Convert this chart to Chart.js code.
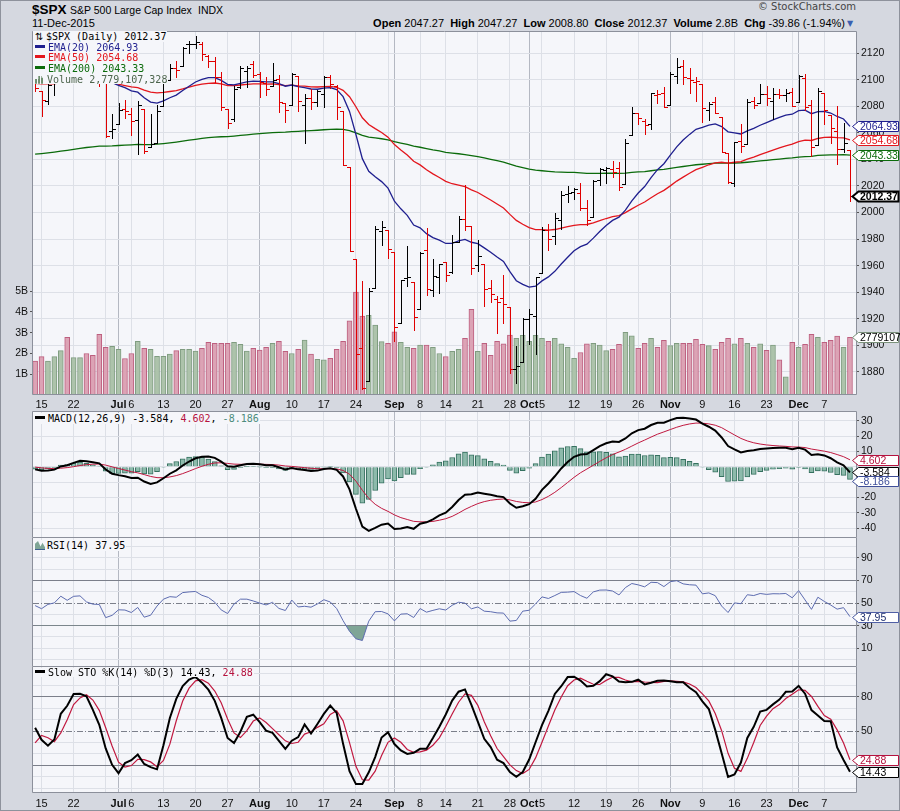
<!DOCTYPE html>
<html>
<head>
<meta charset="utf-8">
<title>$SPX Daily</title>
<script src="https://cdn.jsdelivr.net/npm/chart.js@4.4.1/dist/chart.umd.min.js"></script>
<style>
  html, body { margin: 0; padding: 0; }
  body { width: 900px; height: 811px; position: relative; overflow: hidden; background: #d5d8e0; font-family: "Liberation Sans", Arial, sans-serif; }
  #frame { position: absolute; left: 0; top: 0; width: 898px; height: 809px; border: 1px solid #8e929c; }
  canvas { position: absolute; left: 0; }
  .t { position: absolute; white-space: nowrap; color: #000; }
  .lg { position: absolute; left: 33px; height: 10.7px; line-height: 10.7px; padding-right: 1px; background: #f5f6fa; font: 10px "DejaVu Sans Mono", monospace; white-space: nowrap; z-index: 2; }
  .dash { display: inline-block; width: 10px; height: 3px; margin: 0 3px 0 2px; vertical-align: 3px; }
  .ico { display: inline-block; width: 10px; margin: 0 2px 0 2px; }
</style>
</head>
<body>
<div id="frame"></div>

<div class="t" style="left:32px;top:2px;font:bold 13.5px 'Liberation Sans';">$SPX</div>
<div class="t" style="left:70px;top:4px;font:10.5px 'Liberation Sans';">S&amp;P 500 Large Cap Index</div>
<div class="t" style="left:198px;top:4px;font:10.5px 'Liberation Sans';">INDX</div>
<div class="t" style="left:32px;top:17px;font:11px 'Liberation Sans';">11-Dec-2015</div>
<div class="t" style="right:55px;top:17px;font:11px 'Liberation Sans';"><b>Open</b> 2047.27&nbsp; <b>High</b> 2047.27&nbsp; <b>Low</b> 2008.80&nbsp; <b>Close</b> 2012.37&nbsp; <b>Volume</b> 2.8B&nbsp; <b>Chg</b> -39.86 (-1.94%)</div>
<div class="t" style="left:847px;top:19px;font:8px 'DejaVu Sans';color:#3a5fb0;">▼</div>
<div class="t" style="right:44px;top:1px;font:10px 'DejaVu Sans';color:#444;">© StockCharts.com</div>

<canvas id="cPrice" width="900" height="380" style="top:31px"></canvas>
<canvas id="cMacd" width="900" height="127" style="top:411px"></canvas>
<canvas id="cRsi" width="900" height="129" style="top:538px"></canvas>
<canvas id="cSto" width="900" height="144" style="top:667px"></canvas>

<div class="lg" style="top:31px;"><span class="ico" style="font:10px 'DejaVu Sans';width:9px;">⇅</span>$SPX (Daily) 2012.37</div>
<div class="lg" style="top:41.7px;color:#1f1f8f;"><span class="dash" style="background:#1f1f8f"></span>EMA(20) 2064.93</div>
<div class="lg" style="top:52.4px;color:#e3161d;"><span class="dash" style="background:#e3161d"></span>EMA(50) 2054.68</div>
<div class="lg" style="top:63.1px;color:#0b6b0b;"><span class="dash" style="background:#0b6b0b"></span>EMA(200) 2043.33</div>
<div class="lg" style="top:73.8px;color:#4d654d;"><span class="ico" style="height:8px;vertical-align:-1px;background:linear-gradient(90deg,#6f8f6f 0 2px,transparent 2px 3px,#6f8f6f 3px 5px,transparent 5px 6px,#6f8f6f 6px 8px,transparent 8px);clip-path:polygon(0 40%,33% 40%,33% 0,66% 0,66% 25%,100% 25%,100% 100%,0 100%);"></span>Volume 2,779,107,328</div>

<div class="lg" style="top:413px;"><span class="dash" style="background:#000"></span>MACD(12,26,9) -3.584, <span style="color:#b5123e">4.602</span>, <span style="color:#4c8c7c">-8.186</span></div>
<div class="lg" style="top:540px;"><span class="ico" style="height:8px;vertical-align:-1px;background:#7fa596;border-bottom:1px solid #3f5f8f;clip-path:polygon(0 100%,0 30%,30% 0,55% 60%,75% 20%,100% 70%,100% 100%);"></span>RSI(14) 37.95</div>
<div class="lg" style="top:668px;height:9px;line-height:10px;"><span class="dash" style="background:#000"></span>Slow STO %K(14) %D(3) 14.43, <span style="color:#b5123e">24.88</span></div>

<script>
// trading days shown (x index = position in this list)
const dates = [
  '2015-06-12',
  '2015-06-15','2015-06-16','2015-06-17','2015-06-18','2015-06-19',
  '2015-06-22','2015-06-23','2015-06-24','2015-06-25','2015-06-26',
  '2015-06-29','2015-06-30','2015-07-01','2015-07-02',
  '2015-07-06','2015-07-07','2015-07-08','2015-07-09','2015-07-10',
  '2015-07-13','2015-07-14','2015-07-15','2015-07-16','2015-07-17',
  '2015-07-20','2015-07-21','2015-07-22','2015-07-23','2015-07-24',
  '2015-07-27','2015-07-28','2015-07-29','2015-07-30','2015-07-31',
  '2015-08-03','2015-08-04','2015-08-05','2015-08-06','2015-08-07',
  '2015-08-10','2015-08-11','2015-08-12','2015-08-13','2015-08-14',
  '2015-08-17','2015-08-18','2015-08-19','2015-08-20','2015-08-21',
  '2015-08-24','2015-08-25','2015-08-26','2015-08-27','2015-08-28',
  '2015-08-31','2015-09-01','2015-09-02','2015-09-03','2015-09-04',
  '2015-09-08','2015-09-09','2015-09-10','2015-09-11',
  '2015-09-14','2015-09-15','2015-09-16','2015-09-17','2015-09-18',
  '2015-09-21','2015-09-22','2015-09-23','2015-09-24','2015-09-25',
  '2015-09-28','2015-09-29','2015-09-30','2015-10-01','2015-10-02',
  '2015-10-05','2015-10-06','2015-10-07','2015-10-08','2015-10-09',
  '2015-10-12','2015-10-13','2015-10-14','2015-10-15','2015-10-16',
  '2015-10-19','2015-10-20','2015-10-21','2015-10-22','2015-10-23',
  '2015-10-26','2015-10-27','2015-10-28','2015-10-29','2015-10-30',
  '2015-11-02','2015-11-03','2015-11-04','2015-11-05','2015-11-06',
  '2015-11-09','2015-11-10','2015-11-11','2015-11-12','2015-11-13',
  '2015-11-16','2015-11-17','2015-11-18','2015-11-19','2015-11-20',
  '2015-11-23','2015-11-24','2015-11-25','2015-11-27',
  '2015-11-30','2015-12-01','2015-12-02','2015-12-03','2015-12-04',
  '2015-12-07','2015-12-08','2015-12-09','2015-12-10','2015-12-11'
];

const prevClose = 2108.86; // close before the first bar, sets its colour

const opens = [
  2107.43,2091.34,2084.26,2097.40,2101.58,2121.06,2112.50,2123.16,2123.65,2109.96,
  2102.62,2098.63,2061.19,2067.00,2078.03,2073.95,2069.52,2077.66,2049.73,2052.74,
  2080.03,2099.72,2109.01,2110.55,2126.80,2126.85,2127.19,2118.21,2114.16,2102.24,
  2078.19,2070.75,2094.70,2106.78,2111.60,2104.49,2097.68,2095.27,2100.75,2082.61,
  2080.98,2102.66,2081.10,2086.19,2083.15,2089.70,2101.99,2095.69,2076.61,2034.08,
  1965.15,1898.08,1872.75,1942.77,1986.06,1986.73,1970.09,1916.52,1950.79,1947.76,
  1927.30,1971.45,1941.59,1951.45,1963.06,1955.10,1978.02,1995.33,1989.66,1960.84,
  1961.39,1943.24,1934.81,1935.93,1929.18,1881.90,1887.14,1919.65,1921.77,1954.33,
  1986.63,1982.34,1994.01,2013.73,2015.65,2015.00,2003.66,1996.47,2024.37,2031.73,
  2033.13,2033.47,2021.88,2058.19,2075.08,2068.75,2066.48,2088.35,2090.00,2080.76,
  2102.63,2110.60,2101.68,2098.60,2096.56,2077.19,2083.41,2072.29,2044.64,2022.08,
  2053.67,2051.99,2083.70,2082.82,2089.41,2084.42,2089.30,2088.82,2090.95,2082.93,
  2101.71,2080.71,2051.24,2090.42,2073.39,2061.17,2047.93,2047.27
];
const highs = [
  2107.43,2091.34,2097.40,2106.79,2126.65,2121.64,2129.87,2128.03,2125.10,2116.04,
  2108.92,2098.63,2074.28,2082.78,2085.06,2078.61,2083.74,2077.66,2074.28,2081.31,
  2099.88,2111.98,2114.14,2124.42,2128.91,2132.82,2128.33,2118.51,2116.87,2106.01,
  2078.19,2095.60,2110.60,2110.48,2114.24,2105.70,2102.51,2112.66,2103.32,2082.61,
  2105.35,2102.66,2089.06,2092.93,2092.45,2102.87,2103.47,2096.17,2076.61,2034.08,
  1965.15,1948.04,1943.09,1989.60,1993.48,1986.73,1970.09,1948.91,1975.01,1947.76,
  1970.42,1988.63,1965.29,1961.05,1963.06,1983.19,1997.26,2020.86,1989.66,1979.64,
  1961.39,1949.52,1937.17,1952.89,1929.18,1899.48,1920.53,1927.21,1951.36,1989.17,
  1991.62,1999.31,2016.50,2020.13,2018.66,2022.34,2009.56,2024.15,2033.54,2034.45,
  2039.12,2037.97,2055.20,2079.74,2075.14,2070.37,2090.35,2092.52,2094.32,2106.20,
  2116.48,2114.59,2108.78,2101.91,2096.56,2083.67,2086.94,2072.29,2044.64,2053.22,
  2066.69,2085.31,2086.74,2097.06,2095.61,2094.12,2093.00,2093.29,2093.81,2103.37,
  2104.27,2085.00,2093.84,2090.42,2073.85,2080.33,2067.65,2047.27
];
const lows = [
  2091.33,2072.49,2082.10,2088.86,2101.58,2109.45,2112.50,2119.89,2108.58,2101.78,
  2095.38,2056.64,2056.32,2067.00,2071.02,2058.40,2044.02,2044.66,2049.73,2052.74,
  2080.03,2099.72,2102.49,2110.55,2119.88,2123.66,2115.03,2110.00,2098.63,2077.09,
  2063.52,2069.09,2094.08,2094.97,2102.07,2087.31,2088.60,2095.27,2075.53,2067.91,
  2080.98,2076.49,2052.09,2078.26,2080.61,2079.30,2094.14,2070.53,2035.73,1970.89,
  1867.01,1867.08,1872.75,1942.77,1975.19,1965.98,1903.07,1916.52,1944.72,1911.21,
  1927.30,1937.88,1937.19,1939.19,1948.27,1954.30,1977.93,1986.73,1953.45,1955.80,
  1929.22,1932.57,1908.92,1916.83,1879.21,1871.91,1887.14,1900.70,1893.70,1954.33,
  1971.99,1976.44,1987.53,2007.61,2010.55,2001.78,1990.73,1996.47,2020.46,2022.31,
  2026.61,2017.22,2021.88,2058.19,2066.53,2058.84,2063.11,2082.63,2079.34,2080.76,
  2097.51,2096.98,2090.41,2083.74,2068.24,2069.91,2074.85,2045.66,2022.02,2019.94,
  2045.90,2051.99,2078.76,2082.82,2081.39,2070.29,2086.30,2084.13,2080.41,2082.93,
  2077.11,2042.35,2051.24,2066.78,2052.32,2036.53,2045.67,2008.80
];
const closes = [
  2094.11,2084.43,2096.29,2100.44,2121.24,2109.99,2122.85,2124.20,2108.58,2102.31,
  2101.49,2057.64,2063.11,2077.42,2076.78,2068.76,2081.34,2046.68,2051.31,2076.62,
  2099.60,2108.95,2107.40,2124.29,2126.64,2128.28,2119.21,2114.15,2102.15,2079.65,
  2067.64,2093.25,2108.57,2108.63,2103.84,2098.04,2093.32,2099.84,2083.56,2077.57,
  2104.18,2084.07,2086.05,2083.39,2091.54,2102.44,2096.92,2079.61,2035.73,1970.89,
  1893.21,1867.61,1940.51,1987.66,1988.87,1972.18,1913.85,1948.86,1951.13,1921.22,
  1969.41,1942.04,1952.29,1961.05,1953.03,1978.09,1995.31,1990.20,1958.03,1966.97,
  1942.74,1938.76,1932.24,1931.34,1881.77,1884.09,1920.03,1923.82,1951.36,1987.05,
  1979.92,1995.83,2013.43,2014.89,2017.46,2003.69,1994.24,2023.86,2033.11,2033.66,
  2030.77,2018.94,2052.51,2075.15,2071.18,2065.89,2090.35,2089.41,2079.36,2104.05,
  2109.79,2102.31,2099.93,2099.20,2078.58,2081.72,2075.00,2045.97,2023.04,2053.19,
  2050.44,2083.58,2081.24,2089.17,2086.59,2089.14,2088.87,2090.11,2080.41,2102.63,
  2079.51,2049.62,2091.69,2077.07,2063.59,2047.62,2052.23,2012.37
];
// volume in billions of shares
const volumes = [
  1.64,1.85,1.64,1.85,2.14,2.78,1.80,1.80,2.00,1.91,
  2.92,2.30,2.35,2.20,1.76,2.00,2.59,2.25,2.20,1.86,
  1.86,1.97,2.14,2.20,2.20,2.12,2.25,2.54,2.49,2.49,
  2.49,2.54,2.44,2.12,2.25,2.17,2.30,2.49,2.59,2.10,
  2.00,2.20,2.65,1.97,1.72,1.69,1.77,2.20,2.59,3.57,
  4.96,3.80,3.84,3.37,2.57,2.49,3.04,2.54,2.30,2.25,
  2.41,2.41,2.30,2.00,1.85,2.10,2.20,2.73,4.13,2.10,
  2.49,1.91,2.59,2.46,2.89,2.73,2.87,2.59,2.87,2.73,
  2.59,2.73,2.46,2.30,1.77,2.05,2.46,2.49,2.40,2.14,
  2.20,2.44,3.02,2.85,2.25,2.49,2.73,2.30,2.64,2.38,
  2.49,2.49,2.49,2.68,2.44,2.38,2.20,2.54,2.73,2.46,
  2.73,2.49,2.30,2.46,2.15,2.41,1.69,0.87,2.54,2.30,
  2.44,2.92,2.78,2.54,2.64,2.84,2.30,2.779107328
];

const ema20 = [
  2100.4,2099.0,2098.8,2099.0,2101.2,2102.1,2104.1,2106.1,2106.4,2106.0,
  2105.6,2101.1,2097.8,2095.9,2094.1,2091.7,2090.7,2086.5,2083.2,2082.5,
  2084.2,2086.5,2088.5,2091.9,2095.2,2098.4,2100.4,2101.7,2101.7,2099.6,
  2096.6,2096.2,2097.4,2098.5,2099.0,2098.9,2098.4,2098.5,2097.1,2095.2,
  2096.1,2094.9,2094.1,2093.1,2092.9,2093.8,2094.1,2092.7,2087.3,2076.2,
  2058.8,2040.6,2031.1,2026.9,2023.3,2018.4,2008.5,2002.8,1997.9,1990.6,
  1988.5,1984.1,1981.1,1979.2,1976.7,1976.8,1978.6,1979.7,1977.6,1976.6,
  1973.4,1970.1,1966.5,1963.1,1955.4,1948.6,1945.9,1943.8,1944.5,1948.5,
  1951.5,1955.7,1961.2,1966.3,1971.2,1974.3,1976.2,1980.7,1985.7,1990.3,
  1994.1,1996.5,2001.8,2008.8,2014.7,2019.6,2026.3,2032.3,2036.8,2043.2,
  2049.5,2054.6,2058.9,2062.7,2064.2,2065.9,2066.8,2064.8,2060.8,2060.1,
  2059.2,2061.5,2063.4,2065.8,2067.8,2069.8,2071.7,2073.4,2074.1,2076.8,
  2077.1,2074.5,2076.1,2076.2,2075.0,2072.4,2070.5,2064.93
];
const ema50 = [
  2097.4,2096.9,2096.9,2097.0,2098.0,2098.4,2099.4,2100.4,2100.7,2100.8,
  2100.8,2099.1,2097.7,2096.7,2095.7,2094.7,2094.2,2092.3,2090.7,2090.2,
  2090.5,2091.2,2091.9,2093.1,2094.5,2095.8,2096.7,2097.4,2097.6,2096.9,
  2095.7,2095.6,2096.1,2096.6,2096.9,2097.0,2096.8,2096.9,2096.4,2095.7,
  2096.0,2095.5,2095.2,2094.7,2094.6,2094.9,2095.0,2094.4,2092.1,2087.3,
  2079.7,2071.4,2066.3,2063.2,2060.3,2056.8,2051.2,2047.2,2043.4,2038.6,
  2035.9,2032.2,2029.1,2026.4,2023.5,2021.7,2020.7,2019.5,2017.1,2015.1,
  2012.3,2009.4,2006.4,2003.4,1998.6,1994.1,1991.2,1988.6,1987.1,1987.1,
  1986.8,1987.2,1988.2,1989.3,1990.4,1990.9,1991.0,1992.3,1993.9,1995.5,
  1996.9,1997.7,1999.9,2002.8,2005.5,2007.9,2011.1,2014.2,2016.7,2020.1,
  2023.7,2026.7,2029.6,2032.3,2034.1,2036.0,2037.5,2037.9,2037.3,2037.9,
  2038.4,2040.2,2041.8,2043.7,2045.3,2047.1,2048.7,2050.3,2051.5,2053.5,
  2054.5,2054.3,2055.8,2056.6,2056.9,2056.5,2056.3,2054.68
];
const ema200 = [
  2044.0,2044.4,2044.9,2045.5,2046.2,2046.9,2047.6,2048.4,2049.0,2049.5,
  2050.0,2050.1,2050.2,2050.5,2050.8,2051.0,2051.3,2051.2,2051.2,2051.5,
  2052.0,2052.5,2053.1,2053.8,2054.5,2055.2,2055.9,2056.5,2056.9,2057.1,
  2057.2,2057.6,2058.1,2058.6,2059.1,2059.4,2059.8,2060.2,2060.4,2060.6,
  2061.0,2061.2,2061.5,2061.7,2062.0,2062.4,2062.7,2062.9,2062.6,2061.7,
  2060.0,2058.1,2056.9,2056.3,2055.6,2054.8,2053.4,2052.3,2051.3,2050.0,
  2049.2,2048.2,2047.2,2046.4,2045.4,2044.8,2044.3,2043.7,2042.9,2042.1,
  2041.2,2040.1,2039.1,2038.0,2036.5,2034.9,2033.8,2032.7,2031.9,2031.5,
  2031.0,2030.6,2030.4,2030.3,2030.2,2029.9,2029.5,2029.5,2029.5,2029.6,
  2029.6,2029.5,2029.7,2030.2,2030.6,2030.9,2031.5,2032.1,2032.6,2033.3,
  2034.0,2034.7,2035.4,2036.0,2036.4,2036.9,2037.2,2037.3,2037.2,2037.3,
  2037.5,2037.9,2038.4,2038.9,2039.3,2039.8,2040.3,2040.8,2041.2,2041.8,
  2042.2,2042.3,2043.0,2043.3,2043.5,2043.5,2043.6,2043.33
];

const macdLine = [
  -1.65,-2.60,-2.37,-1.83,0.27,1.01,2.61,3.94,3.69,2.96,
  2.29,-1.76,-4.48,-5.42,-6.14,-7.27,-7.08,-9.61,-11.12,-10.15,
  -7.44,-4.50,-2.26,0.87,3.49,5.63,6.53,6.76,5.90,3.37,
  0.39,0.09,1.08,1.84,2.03,1.70,1.05,1.04,-0.28,-1.78,
  -0.81,-1.64,-2.12,-2.69,-2.46,-1.38,-0.96,-1.99,-6.28,-14.73,
  -27.38,-39.02,-41.88,-39.89,-37.78,-37.03,-40.67,-40.26,-39.30,-40.49,
  -37.12,-36.24,-34.32,-31.73,-29.97,-26.25,-21.67,-18.24,-17.91,-16.73,
  -17.55,-18.30,-19.21,-19.77,-23.94,-26.75,-25.78,-24.42,-20.89,-15.03,
  -10.85,-6.17,-1.03,3.12,6.54,8.05,8.39,10.92,13.52,15.44,
  16.54,16.27,18.54,21.92,24.00,24.94,27.33,28.82,28.86,30.53,
  31.94,32.09,31.66,30.90,28.31,26.21,23.73,19.20,13.61,11.47,
  9.45,10.40,10.84,11.69,12.02,12.34,12.43,12.46,11.57,12.51,
  11.26,7.77,8.30,7.46,5.64,2.87,1.04,-3.584
];
const macdSignal = [
  -0.17,-0.66,-1.00,-1.17,-0.88,-0.50,0.12,0.88,1.44,1.74,
  1.85,1.13,0.01,-1.08,-2.09,-3.13,-3.92,-5.06,-6.27,-7.05,
  -7.13,-6.60,-5.73,-4.41,-2.83,-1.14,0.39,1.66,2.51,2.68,
  2.22,1.79,1.65,1.69,1.76,1.75,1.61,1.50,1.14,0.56,
  0.29,-0.10,-0.50,-0.94,-1.24,-1.27,-1.21,-1.37,-2.35,-4.83,
  -9.34,-15.28,-20.60,-24.46,-27.12,-29.10,-31.41,-33.18,-34.40,-35.62,
  -35.92,-35.98,-35.65,-34.87,-33.89,-32.36,-30.22,-27.82,-25.84,-24.02,
  -22.73,-21.84,-21.31,-21.00,-21.59,-22.62,-23.25,-23.48,-22.96,-21.37,
  -19.27,-16.65,-13.53,-10.20,-6.85,-3.87,-1.42,1.05,3.54,5.92,
  8.04,9.69,11.46,13.55,15.64,17.50,19.47,21.34,22.84,24.38,
  25.89,27.13,28.04,28.61,28.55,28.08,27.21,25.61,23.21,20.86,
  18.58,16.94,15.72,14.91,14.33,13.93,13.63,13.40,13.03,12.93,
  12.60,11.63,10.96,10.26,9.34,8.05,6.65,4.602
];
const macdHist = [
  -1.48,-1.94,-1.37,-0.66,1.15,1.51,2.49,3.06,2.25,1.22,
  0.44,-2.89,-4.49,-4.34,-4.05,-4.14,-3.16,-4.55,-4.85,-3.10,
  -0.31,2.10,3.47,5.28,6.32,6.77,6.14,5.10,3.39,0.69,
  -1.83,-1.70,-0.57,0.15,0.27,-0.05,-0.56,-0.46,-1.42,-2.34,
  -1.10,-1.54,-1.62,-1.75,-1.22,-0.11,0.25,-0.62,-3.93,-9.90,
  -18.04,-23.74,-21.28,-15.43,-10.66,-7.93,-9.26,-7.08,-4.90,-4.87,
  -1.20,-0.26,1.33,3.14,3.92,6.11,8.55,9.58,7.93,7.29,
  5.18,3.54,2.10,1.23,-2.35,-4.13,-2.53,-0.94,2.07,6.34,
  8.42,10.48,12.50,13.32,13.39,11.92,9.81,9.87,9.98,9.52,
  8.50,6.58,7.08,8.37,8.36,7.44,7.86,7.48,6.02,6.15,
  6.05,4.96,3.62,2.29,-0.24,-1.87,-3.48,-6.41,-9.60,-9.39,
  -9.13,-6.54,-4.88,-3.22,-2.31,-1.59,-1.20,-0.94,-1.46,-0.42,
  -1.34,-3.86,-2.66,-2.80,-3.70,-5.18,-5.61,-8.186
];

const rsi14 = [
  47.7,45.0,48.8,50.1,56.0,52.4,55.9,56.3,51.0,49.0,
  48.7,37.1,39.1,44.0,43.8,41.6,46.1,37.5,39.2,47.3,
  53.4,55.6,55.1,59.2,59.8,60.2,56.8,54.9,50.7,43.9,
  40.7,49.1,53.4,53.4,51.8,49.9,48.3,50.6,45.2,43.4,
  52.6,46.5,47.1,46.3,49.2,52.9,50.9,45.1,34.4,25.0,
  18.4,16.9,34.0,42.3,42.5,40.4,34.2,40.2,40.5,37.2,
  45.1,41.9,43.5,44.9,43.8,48.0,50.7,49.9,44.9,46.5,
  42.8,42.3,41.3,41.1,34.0,34.6,42.8,43.6,49.2,55.4,
  54.0,56.6,59.4,59.6,60.1,56.6,54.2,59.8,61.4,61.5,
  60.6,57.1,63.6,67.2,66.0,64.3,68.3,68.0,64.5,68.8,
  69.7,66.9,66.1,65.8,58.1,58.9,56.5,47.3,41.6,50.1,
  49.4,57.3,56.6,58.4,57.6,58.2,58.1,58.4,54.6,60.9,
  52.7,44.4,55.1,51.4,48.2,44.6,45.9,37.95
];

const stoK = [
  52.8,42.3,37.2,42.6,65.1,72.1,82.4,82.5,80.4,68.5,
  55.4,34.8,20.5,13.1,21.9,24.5,29.4,21.2,18.4,16.5,
  37.6,61.4,78.1,89.3,95.0,97.3,92.3,86.2,76.4,61.5,
  43.9,39.5,49.4,62.4,64.3,57.7,50.3,48.4,41.4,34.3,
  41.5,44.7,55.7,47.8,56.2,65.0,72.2,65.8,38.8,14.8,
  3.6,3.7,13.9,27.2,44.3,48.9,38.6,33.0,30.0,31.0,
  34.4,34.5,43.8,53.7,64.5,76.6,84.4,86.4,72.9,58.3,
  43.2,36.0,24.9,22.0,14.2,10.0,14.1,25.1,40.2,55.2,
  67.7,82.4,89.2,97.2,97.5,94.1,89.0,89.6,93.6,99.7,
  97.8,93.3,92.6,93.0,94.9,90.8,92.2,94.0,94.2,93.5,
  92.7,92.7,87.8,83.9,75.9,69.2,51.0,30.6,9.8,12.0,
  22.4,44.0,53.7,67.0,68.5,73.3,77.5,84.3,84.5,89.5,
  82.7,68.3,63.6,58.8,58.5,35.6,24.6,14.43
];
const stoD = [
  39.6,46.2,44.1,40.7,48.3,59.9,73.2,79.0,81.8,77.1,
  68.1,52.9,36.9,22.8,18.5,19.8,25.3,25.0,23.0,18.7,
  24.2,38.5,59.0,76.3,87.5,93.9,94.9,91.9,85.0,74.7,
  60.6,48.3,44.3,50.4,58.7,61.5,57.4,52.1,46.7,41.4,
  39.1,40.2,47.3,49.4,53.2,56.3,64.5,67.7,58.9,39.8,
  19.1,7.4,7.1,14.9,28.5,40.1,43.9,40.2,33.9,31.3,
  31.8,33.3,37.6,44.0,54.0,64.9,75.2,82.5,81.2,72.5,
  58.1,45.8,34.7,27.6,20.4,15.4,12.8,16.4,26.5,40.2,
  54.4,68.4,79.8,89.6,94.6,96.3,93.5,90.9,90.7,94.3,
  97.0,96.9,94.6,93.0,93.5,92.9,92.6,92.3,93.5,93.9,
  93.5,93.0,91.1,88.1,82.5,76.3,65.4,50.3,30.5,17.5,
  14.7,26.1,40.0,54.9,63.1,69.6,73.1,78.4,82.1,86.1,
  85.6,80.2,71.5,63.6,60.3,51.0,39.6,24.88
];

// axis ticks
const tickIdx  = [1, 6, 11, 13, 15, 20, 25, 30, 35, 40, 45, 50, 55, 56, 60, 64, 69, 74, 77, 79, 84, 89, 94, 99, 104, 109, 114, 118, 119, 123];
const tickText = ['15','22','','Jul','6','13','20','27','Aug','10','17','24','','Sep','8','14','21','28','Oct','5','12','19','26','Nov','9','16','23','','Dec','7'];
const monthIdx = [13, 35, 56, 77, 99, 119];
const priceTicks = [1880, 1900, 1920, 1940, 1960, 1980, 2000, 2020, 2040, 2060, 2080, 2100, 2120];
const volTicks = [1, 2, 3, 4, 5];
const macdTicks = [-40, -30, -20, -10, 0, 10, 20, 30];
const macdLabels = [-40, -30, -20, 10, 20, 30];
const oscTicks = [0, 10, 20, 30, 40, 50, 60, 70, 80, 90, 100];
const rsiLabels = [10, 30, 50, 70, 90];
const stoLabels = [50, 80];

const PLOT_BG = '#f5f6fa', GRID = '#dde0e7', GRID_MONTH = '#b4b8c2', FRAME = '#8c909b', LEVEL = '#7b7f8a';
const TICK_FONT = 'Liberation Sans';
const last = dates.length - 1;

const pts = arr => arr.map((v, i) => ({ x: i, y: v }));
const isUp = i => closes[i] >= (i ? closes[i - 1] : prevClose);

// plot background, level lines, frame and the value tags on the right edge
const panelPlugin = {
  id: 'panel',
  beforeDraw(chart) {
    const a = chart.chartArea, ctx = chart.ctx;
    ctx.save();
    ctx.fillStyle = PLOT_BG;
    ctx.fillRect(a.left, a.top, a.right - a.left, a.bottom - a.top);
    ctx.restore();
  },
  beforeDatasetsDraw(chart, args, opts) {
    const a = chart.chartArea, ctx = chart.ctx, y = chart.scales.y;
    ctx.save();
    (opts.levels || []).forEach(l => {
      const py = Math.round(y.getPixelForValue(l.value)) + 0.5;
      ctx.strokeStyle = LEVEL;
      ctx.lineWidth = 1;
      ctx.setLineDash(l.dash || []);
      ctx.beginPath();
      ctx.moveTo(a.left, py);
      ctx.lineTo(a.right, py);
      ctx.stroke();
    });
    ctx.restore();
  },
  afterDraw(chart, args, opts) {
    const a = chart.chartArea, ctx = chart.ctx;
    const l = Math.round(a.left) - 0.5, r = Math.round(a.right) + 0.5;
    const t = Math.round(a.top) + 0.5, b = Math.round(a.bottom) - 0.5;
    ctx.save();
    ctx.strokeStyle = FRAME;
    ctx.lineWidth = 1;
    ctx.beginPath();
    ctx.moveTo(l, opts.top ? t : a.top); ctx.lineTo(l, b); ctx.lineTo(r, b); ctx.lineTo(r, opts.top ? t : a.top);
    if (opts.top) { ctx.moveTo(l, t); ctx.lineTo(r, t); }
    ctx.stroke();

    const H = 10;
    const tags = (opts.tags || []).map(tg => Object.assign({}, tg, { py: chart.scales[tg.scale].getPixelForValue(tg.value) }));
    tags.sort((p, q) => p.py - q.py);
    for (let k = 1; k < tags.length; k++) {
      if (tags[k].py < tags[k - 1].py + H - 1) tags[k].py = tags[k - 1].py + H - 1;
    }
    tags.forEach(tg => {
      const yc = Math.round(tg.py) + 0.5;
      const x0 = r - 4, x1 = r + 2, x2 = chart.width - 1.5;
      ctx.beginPath();
      ctx.moveTo(x0, yc);
      ctx.lineTo(x1, yc - H / 2); ctx.lineTo(x2, yc - H / 2);
      ctx.lineTo(x2, yc + H / 2); ctx.lineTo(x1, yc + H / 2);
      ctx.closePath();
      ctx.fillStyle = '#fff';
      ctx.fill();
      ctx.lineWidth = tg.bold ? 2 : 1;
      ctx.strokeStyle = tg.color;
      ctx.stroke();
      ctx.fillStyle = tg.textColor || tg.color;
      ctx.font = (tg.bold ? 'bold ' : '') + '10.5px "' + TICK_FONT + '"';
      ctx.textAlign = 'left';
      ctx.textBaseline = 'middle';
      ctx.fillText(tg.text, x1 + 1.5, yc + 0.5);
    });
    ctx.restore();
  }
};

// open-high-low-close bars, positioned through the chart's x and y scales
const ohlcPlugin = {
  id: 'ohlc',
  afterDatasetsDraw(chart) {
    const { ctx, chartArea: a } = chart;
    const x = chart.scales.x, y = chart.scales.y;
    ctx.save();
    ctx.beginPath();
    ctx.rect(a.left, a.top, a.right - a.left, a.bottom - a.top);
    ctx.clip();
    ctx.lineWidth = 1;
    for (let i = 0; i < closes.length; i++) {
      const px = Math.round(x.getPixelForValue(i)) + 0.5;
      const yh = Math.round(y.getPixelForValue(highs[i]));
      const yl = Math.round(y.getPixelForValue(lows[i]));
      const yo = Math.round(y.getPixelForValue(opens[i])) + 0.5;
      const yc = Math.round(y.getPixelForValue(closes[i])) + 0.5;
      ctx.strokeStyle = isUp(i) ? '#000000' : '#e00000';
      ctx.beginPath();
      ctx.moveTo(px, yh); ctx.lineTo(px, yl + 1);
      ctx.moveTo(px - 3.5, yo); ctx.lineTo(px, yo);
      ctx.moveTo(px, yc); ctx.lineTo(px + 3.5, yc);
      ctx.stroke();
    }
    ctx.restore();
  }
};

function xScale(showLabels, height, pad) {
  return {
    type: 'linear', position: 'bottom', min: -0.33, max: 127.94, offset: false,
    afterBuildTicks: s => { s.ticks = tickIdx.map(v => ({ value: v })); },
    afterFit: s => { s.height = height; s.paddingLeft = 0; s.paddingRight = 0; },
    border: { display: false },
    grid: { offset: false, drawTicks: false, color: c => monthIdx.includes(c.tick && c.tick.value) ? GRID_MONTH : GRID },
    ticks: {
      display: showLabels, autoSkip: false, maxRotation: 0, minRotation: 0, padding: pad, color: '#111',
      font: c => ({ family: TICK_FONT, size: 11, weight: monthIdx.includes(c.tick && c.tick.value) ? 'bold' : 'normal' }),
      callback: v => tickText[tickIdx.indexOf(v)]
    }
  };
}

function yRight(min, max, ticks, labels, darkAt, hideAt) {
  return {
    type: 'linear', position: 'right', min: min, max: max,
    afterBuildTicks: s => { s.ticks = ticks.map(v => ({ value: v })); },
    afterFit: s => { s.width = 44; s.paddingTop = 0; s.paddingBottom = 0; },
    border: { display: false },
    grid: {
      tickLength: 3,
      tickColor: c => labels.includes(c.tick && c.tick.value) ? '#555' : 'rgba(0,0,0,0)',
      color: c => {
        const v = c.tick && c.tick.value;
        if ((hideAt || []).includes(v)) return 'rgba(0,0,0,0)';
        return (darkAt || []).includes(v) ? LEVEL : GRID;
      }
    },
    ticks: { autoSkip: false, padding: 2, color: '#111', font: { family: TICK_FONT, size: 10.5 }, callback: v => labels.includes(v) ? String(v) : '' }
  };
}

function baseOptions(padLeft, panelOpts) {
  return {
    responsive: false, animation: false, events: [],
    layout: { padding: { left: padLeft, right: 0, top: 0, bottom: 0 } },
    plugins: { legend: { display: false }, tooltip: { enabled: false }, panel: panelOpts }
  };
}

// price panel
const priceOpts = baseOptions(0, {
  top: true,
  tags: [
    { scale: 'y', value: ema20[last], text: ema20[last].toFixed(2), color: '#1f1f8f' },
    { scale: 'y', value: ema50[last], text: ema50[last].toFixed(2), color: '#e3161d' },
    { scale: 'y', value: ema200[last], text: ema200[last].toFixed(2), color: '#0b6b0b' },
    { scale: 'y', value: closes[last], text: closes[last].toFixed(2), color: '#000', bold: true },
    { scale: 'yVol', value: volumes[last], text: (volumes[last] * 1e9).toFixed(0).slice(0, 7), color: '#7a927a', textColor: '#000' }
  ]
});
priceOpts.scales = {
  x: xScale(true, 16, 3),
  y: yRight(1862.5, 2136.8, priceTicks, priceTicks),
  yVol: {
    type: 'linear', position: 'left', min: 0, max: 17.54,
    afterBuildTicks: s => { s.ticks = volTicks.map(v => ({ value: v })); },
    afterFit: s => { s.width = 33; s.paddingTop = 0; s.paddingBottom = 0; },
    border: { display: false },
    grid: { drawOnChartArea: false, tickLength: 3, tickColor: '#555' },
    ticks: { autoSkip: false, padding: 2, color: '#111', font: { family: TICK_FONT, size: 10.5 }, callback: v => v + 'B' }
  }
};

new Chart(document.getElementById('cPrice'), {
  type: 'line',
  data: {
    datasets: [
      {
        type: 'bar', yAxisID: 'yVol', data: pts(volumes), order: 10,
        barThickness: 5, borderWidth: 1,
        backgroundColor: volumes.map((v, i) => isUp(i) ? '#adc3ab' : '#dca3b5'),
        borderColor: volumes.map((v, i) => isUp(i) ? '#7f9c80' : '#bd5f7f')
      },
      { label: 'EMA(200)', data: pts(ema200), yAxisID: 'y', borderColor: '#0b6b0b', borderWidth: 1.3, pointRadius: 0, order: 3 },
      { label: 'EMA(50)', data: pts(ema50), yAxisID: 'y', borderColor: '#e3161d', borderWidth: 1.3, pointRadius: 0, order: 2 },
      { label: 'EMA(20)', data: pts(ema20), yAxisID: 'y', borderColor: '#1f1f8f', borderWidth: 1.3, pointRadius: 0, order: 1 }
    ]
  },
  options: priceOpts,
  plugins: [panelPlugin, ohlcPlugin]
});

// MACD panel
const macdOpts = baseOptions(33, {
  top: true,
  tags: [
    { scale: 'y', value: macdSignal[last], text: macdSignal[last].toFixed(3), color: '#b5123e' },
    { scale: 'y', value: macdLine[last], text: macdLine[last].toFixed(3), color: '#000' },
    { scale: 'y', value: macdHist[last], text: macdHist[last].toFixed(3), color: '#3f4f99' }
  ]
});
macdOpts.scales = { x: xScale(false, 0, 0), y: yRight(-46.5, 36.5, macdTicks, macdLabels) };
new Chart(document.getElementById('cMacd'), {
  type: 'line',
  data: {
    datasets: [
      { type: 'bar', data: pts(macdHist), order: 10, barThickness: 5, borderWidth: 1, backgroundColor: '#8dbaab', borderColor: '#35705f' },
      { label: 'Signal', data: pts(macdSignal), borderColor: '#c0183f', borderWidth: 1, pointRadius: 0, order: 2 },
      { label: 'MACD', data: pts(macdLine), borderColor: '#000', borderWidth: 2, pointRadius: 0, order: 1 }
    ]
  },
  options: macdOpts,
  plugins: [panelPlugin]
});

// RSI panel
const rsiOpts = baseOptions(33, {
  levels: [{ value: 50, dash: [6, 2, 1, 2] }],
  tags: [{ scale: 'y', value: rsi14[last], text: rsi14[last].toFixed(2), color: '#4f5fa5', textColor: '#1f2f6f' }]
});
rsiOpts.scales = { x: xScale(false, 0, 0), y: yRight(-6.5, 107.4, oscTicks, rsiLabels, [30, 70], [50]) };
new Chart(document.getElementById('cRsi'), {
  type: 'line',
  data: {
    datasets: [{
      label: 'RSI(14)', data: pts(rsi14), borderColor: '#5d6cb0', borderWidth: 1, pointRadius: 0,
      fill: { target: { value: 30 }, above: 'rgba(0,0,0,0)', below: '#7fa596' }
    }]
  },
  options: rsiOpts,
  plugins: [panelPlugin]
});

// slow stochastics panel
const stoOpts = baseOptions(33, {
  levels: [{ value: 50, dash: [6, 2, 1, 2] }],
  tags: [
    { scale: 'y', value: stoD[last], text: stoD[last].toFixed(2), color: '#b5123e' },
    { scale: 'y', value: stoK[last], text: stoK[last].toFixed(2), color: '#000' }
  ]
});
stoOpts.scales = { x: xScale(true, 18, 4), y: yRight(-4.2, 106, oscTicks, stoLabels, [20, 80], [50]) };
new Chart(document.getElementById('cSto'), {
  type: 'line',
  data: {
    datasets: [
      { label: '%D(3)', data: pts(stoD), borderColor: '#c0183f', borderWidth: 1.2, pointRadius: 0, order: 2 },
      { label: '%K(14)', data: pts(stoK), borderColor: '#000', borderWidth: 2, pointRadius: 0, order: 1 }
    ]
  },
  options: stoOpts,
  plugins: [panelPlugin]
});
</script>
</body>
</html>
